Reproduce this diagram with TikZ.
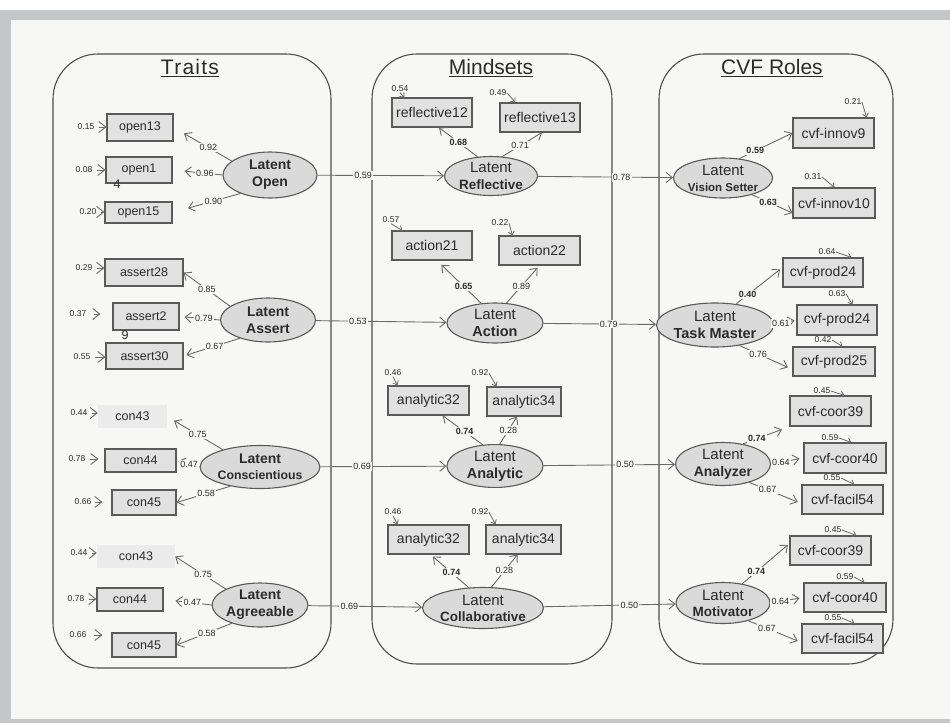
\documentclass[tikz,border=0pt]{standalone}
\usepackage{fontspec}
\setmainfont{Liberation Sans}
\usetikzlibrary{arrows.meta,shapes.geometric}
\newcommand\fsz[2]{\fontsize{#1}{#2}\selectfont}
\definecolor{framegray}{HTML}{C5C6C8}
\definecolor{paper}{HTML}{F7F7F5}
\definecolor{panelln}{HTML}{4E4E4E}
\definecolor{boxln}{HTML}{5A5A5A}
\definecolor{boxfill}{HTML}{E1E1E1}
\definecolor{faintfill}{HTML}{EBEBEB}
\definecolor{latfill}{HTML}{DADADA}
\definecolor{ink}{HTML}{2B2B2B}
\definecolor{wire}{HTML}{6A6A6A}
\begin{document}
\begin{tikzpicture}[x=1pt,y=-1pt,
  panel/.style={draw=panelln, line width=1.1pt, rounded corners=45pt},
  ttl/.style={font=\fsz{21}{24}, text=ink},
  tbox/.style={draw=boxln, fill=boxfill, line width=1.1pt, inner sep=0pt, font=\fsz{12.5}{14}, text=ink},
  mbox/.style={draw=boxln, fill=boxfill, line width=1.1pt, inner sep=0pt, font=\fsz{14}{16}, text=ink},
  fbox/.style={fill=faintfill, inner sep=0pt, font=\fsz{12.5}{14}, text=ink},
  lat/.style={ellipse, draw=boxln, fill=latfill, line width=1.1pt, inner sep=0pt, align=center, text=ink},
  ld/.style={draw=wire, line width=0.9pt, -{Straight Barb[length=6pt,width=10pt]}},
  lv/.style={font=\fsz{9}{10}, fill=paper, inner sep=1.2pt, text=ink},
  lvb/.style={lv, font=\fsz{9}{10}\bfseries},
  er/.style={font=\fsz{8.5}{9}, inner sep=0.5pt, text=ink},
  ea/.style={draw=wire, line width=0.9pt, shorten <=4pt, -{Straight Barb[length=7pt,width=11pt]}},
  es/.style={draw=wire, line width=0.8pt, -{Straight Barb[length=3.5pt,width=6pt]}}
]
% page, frame and panels
\fill[white] (0,0) rectangle (950,723);
\fill[framegray] (0,10) rectangle (950,723);
\fill[paper] (11,20) rectangle (950,719);
\useasboundingbox (0,0) rectangle (950,723);
\draw[panel] (53,54) rectangle (331,668);
\draw[panel] (372,54) rectangle (612,664);
\draw[panel] (659,54) rectangle (893,664);
\node[ttl] (tTraits) at (190,68) {\underline{\addfontfeature{LetterSpace=6}Traits}};
\node[ttl] (tMind) at (491,68) {\underline{Mindsets}};
\node[ttl] (tCVF) at (772,68) {\underline{CVF Roles}};

% ---------------- Traits ----------------
\node[lat, minimum width=94pt, minimum height=46pt, font=\fsz{14}{17}\bfseries] (lo) at (270,175) {Latent\\Open};
\node[lat, minimum width=95pt, minimum height=44pt, font=\fsz{14}{17}\bfseries] (la) at (268,320) {Latent\\Assert};
\node[lat, minimum width=95pt, minimum height=43pt, font=\fsz{14}{16}\bfseries] (lc) at (260,467) {Latent\\{\fsz{12.3}{14}Conscientious}};
\node[lat, minimum width=94pt, minimum height=44pt, font=\fsz{14}{17}\bfseries] (lg) at (260,605) {Latent\\Agreeable};

\node[tbox, minimum width=66pt, minimum height=27pt] (o13) at (140,127.5) {open13};
\node[tbox, minimum width=66pt, minimum height=26pt] (o14) at (139,170) {\raisebox{3pt}{open1}\hspace{12pt}};
\node[font=\fsz{12.5}{14}, text=ink, inner sep=0pt] (o14b) at (117,184) {4};
\node[tbox, minimum width=67pt, minimum height=21pt] (o15) at (138.5,212.5) {open15};
\node[tbox, minimum width=78pt, minimum height=27pt] (a28) at (144,272.5) {assert28};
\node[tbox, minimum width=66pt, minimum height=27pt] (a29) at (146,316.5) {assert2\hspace{6pt}};
\node[font=\fsz{12.5}{14}, text=ink, inner sep=0pt] (a29b) at (125,335) {9};
\node[tbox, minimum width=77pt, minimum height=26pt] (a30) at (144.5,356) {assert30};
\node[fbox, minimum width=69pt, minimum height=23pt] (c43) at (132.5,416.5) {con43};
\node[tbox, minimum width=71pt, minimum height=23pt] (c44) at (140.5,460.5) {con44};
\node[tbox, minimum width=64pt, minimum height=25pt] (c45) at (144,502.5) {con45};
\node[fbox, minimum width=78pt, minimum height=23pt] (g43) at (136,556.5) {con43};
\node[tbox, minimum width=66pt, minimum height=23pt] (g44) at (130,599.5) {con44};
\node[tbox, minimum width=64pt, minimum height=24pt] (g45) at (144,645) {con45};

% error terms of the trait indicators
\node[er] (eo13) at (86,127) {0.15};
\node[er] (eo14) at (84,170) {0.08};
\node[er] (eo15) at (88,212) {0.20};
\node[er] (ea28) at (84,268) {0.29};
\node[er] (ea29) at (78,314) {0.37};
\node[er] (ea30) at (82,357) {0.55};
\node[er] (ec43) at (79,413) {0.44};
\node[er] (ec44) at (77,459) {0.78};
\node[er] (ec45) at (83,502) {0.66};
\node[er] (eg43) at (79,553) {0.44};
\node[er] (eg44) at (76,599) {0.78};
\node[er] (eg45) at (78,635) {0.66};
\draw[ea] (eo13.east) -- (eo13.east -| o13.west);
\draw[ea] (eo14.east) -- (eo14.east -| o14.west);
\draw[ea] (eo15.east) -- (eo15.east -| o15.west);
\draw[ea] (ea28.east) -- (ea28.east -| a28.west);
\draw[ea, shorten >=12pt, shorten <=7pt] (ea29.east) -- (ea29.east -| a29.west);
\draw[ea] (ea30.east) -- (ea30.east -| a30.west);
\draw[ea] (ec43.east) -- (ec43.east -| c43.west);
\draw[ea, shorten >=6pt] (ec44.east) -- (ec44.east -| c44.west);
\draw[ea, shorten >=9pt, shorten <=3pt] (ec45.east) -- (ec45.east -| c45.west);
\draw[ea] (eg43.east) -- (eg43.east -| g43.west);
\draw[ea] (eg44.east) -- (eg44.east -| g44.west);
\draw[ea, shorten >=9pt, shorten <=7pt] (eg45.east) -- (eg45.east -| g45.west);

% trait loadings
\draw[ld, shorten >=12pt] (lo.160) -- node[lv, pos=.4] {0.92} (o13.east);
\draw[ld, shorten >=12pt] (lo.west) -- node[lv, pos=.35] {0.96} (o14.east);
\draw[ld, shorten >=16pt] (lo.212) -- node[lv, pos=.4] {0.90} (o15.east);
\draw[ld] (la.160) -- node[lv, pos=.5] {0.85} (a28.east);
\draw[ld, shorten >=5pt] (la.west) -- node[lv, pos=.4] {0.79} (a29.east);
\draw[ld, shorten >=3pt] (la.213) -- node[lv, pos=.45] {0.67} (a30.east);
\draw[ld, shorten >=8pt] (lc.155) -- node[lv, pos=.45] {0.75} (c43.east);
\draw[ld, shorten >=2pt] (lc.west) -- node[lv, pos=.45] {0.47} (c44.east);
\draw[ld] (lc.213) -- node[lv, pos=.45] {0.58} (c45.east);
\draw[ld] (lg.155) -- node[lv, pos=.45] {0.75} (g43.east);
\draw[ld, shorten >=12pt] (lg.west) -- node[lv, pos=.4] {0.47} (g44.east);
\draw[ld] (lg.213) -- node[lv, pos=.45] {0.58} (g45.east);

% ---------------- Mindsets ----------------
\node[lat, minimum width=93pt, minimum height=39pt, font=\fsz{15}{17}] (lr) at (491,176) {Latent\\{\fsz{13.5}{15}\bfseries Reflective}};
\node[lat, minimum width=96pt, minimum height=40pt, font=\fsz{15}{17}] (lac) at (495,323) {Latent\\{\fsz{14.5}{16}\bfseries Action}};
\node[lat, minimum width=96pt, minimum height=42pt, font=\fsz{15}{17}] (lan) at (495,466) {Latent\\{\fsz{14.5}{16}\bfseries Analytic}};
\node[lat, minimum width=93pt, minimum height=41pt, font=\fsz{15}{16}] (lcb) at (483,608) {Latent\\{\fsz{13.5}{15}\bfseries Collaborative}};

\node[mbox, minimum width=80pt, minimum height=29pt] (r12) at (432,112.5) {reflective12};
\node[mbox, minimum width=80pt, minimum height=29pt] (r13) at (540,117.5) {reflective13};
\node[mbox, minimum width=80pt, minimum height=29pt] (x21) at (432,245.5) {action21\hspace{8pt}};
\node[mbox, minimum width=81pt, minimum height=29pt] (x22) at (539.5,250.5) {action22\hspace{8pt}};
\node[mbox, minimum width=81pt, minimum height=29pt] (n32) at (428.5,400.5) {analytic32};
\node[mbox, minimum width=74pt, minimum height=29pt] (n34) at (524,401.5) {\raisebox{-3pt}{analytic34}};
\node[mbox, minimum width=81pt, minimum height=29pt] (b32) at (428.5,539.5) {analytic32};
\node[mbox, minimum width=75pt, minimum height=29pt] (b34) at (523.5,539.5) {\raisebox{-3pt}{analytic34}};

\node[er] (er12) at (400,89) {0.54};
\node[er] (er13) at (498,93) {0.49};
\node[er] (ex21) at (391,220) {0.57};
\node[er] (ex22) at (500,223) {0.22};
\node[er] (en32) at (393,373) {0.46};
\node[er] (en34) at (480,373) {0.92};
\node[er] (eb32) at (393,512) {0.46};
\node[er] (eb34) at (480,512) {0.92};
\draw[es] (er12.south) -- ([xshift=13pt]r12.north west);
\draw[es] (er13.east) -- ([xshift=16pt]r13.north west);
\draw[es] (ex21.south) -- ([xshift=11pt]x21.north west);
\draw[es] (ex22.east) -- ([xshift=14pt]x22.north west);
\draw[es] (en32.south) -- ([xshift=10pt]n32.north west);
\draw[es] (en34.east) -- ([xshift=10pt]n34.north west);
\draw[es] (eb32.south) -- ([xshift=10pt]b32.north west);
\draw[es] (eb34.east) -- ([xshift=10pt]b34.north west);

\draw[ld] (lr.125) -- node[lvb, pos=.5] {0.68} ([xshift=7pt]r12.south);
\draw[ld] (lr.60) -- node[lv, pos=.45] {0.71} ([xshift=2pt]r13.south);
\draw[ld, shorten >=6pt] (lac.125) -- node[lvb, pos=.4] {0.65} ([xshift=5pt]x21.south);
\draw[ld, shorten >=3pt] (lac.60) -- node[lv, pos=.45] {0.89} (x22.south);
\draw[ld] (lan.120) -- node[lvb, pos=.45] {0.74} ([xshift=14pt]n32.south);
\draw[ld] (lan.78) -- node[lv, pos=.5] {0.28} ([xshift=-7pt]n34.south);
\draw[ld, shorten >=3pt] (lcb.125) -- node[lvb, pos=.45] {0.74} ([xshift=2pt]b32.south);
\draw[ld] (lcb.68) -- node[lv, pos=.5] {0.28} ([xshift=-6pt]b34.south);

% ---------------- CVF Roles ----------------
\node[lat, minimum width=93pt, minimum height=40pt, font=\fsz{15}{16}] (lv) at (723,178) {Latent\\{\fsz{11.5}{13}\bfseries Vision Setter}};
\node[lat, minimum width=95pt, minimum height=44pt, font=\fsz{15}{17}] (lt) at (715,325) {Latent\\{\fsz{14.5}{16}\bfseries Task Master}};
\node[lat, minimum width=95pt, minimum height=43pt, font=\fsz{15}{17}] (lz) at (723,464) {Latent\\{\fsz{14}{16}\bfseries Analyzer}};
\node[lat, minimum width=94pt, minimum height=41pt, font=\fsz{15}{16}] (lm) at (723,603) {Latent\\{\fsz{13.5}{15}\bfseries Motivator}};

\node[mbox, minimum width=81pt, minimum height=30pt] (i9) at (833.5,133) {cvf-innov9\hspace{8pt}};
\node[mbox, minimum width=82pt, minimum height=30pt] (i10) at (834,203) {cvf-innov10};
\node[mbox, minimum width=80pt, minimum height=29pt] (p24) at (823,272.5) {cvf-prod24};
\node[mbox, minimum width=80pt, minimum height=30pt] (p24b) at (837,320) {cvf-prod24};
\node[mbox, minimum width=82pt, minimum height=29pt] (p25) at (834,361.5) {cvf-prod25};
\node[mbox, minimum width=81pt, minimum height=30pt] (c39) at (830.5,411) {cvf-coor39};
\node[mbox, minimum width=82pt, minimum height=30pt] (c40) at (845,458) {cvf-coor40};
\node[mbox, minimum width=81pt, minimum height=29pt] (f54) at (842.5,499.5) {cvf-facil54};
\node[mbox, minimum width=81pt, minimum height=29pt] (c39b) at (830.5,550.5) {cvf-coor39};
\node[mbox, minimum width=82pt, minimum height=29pt] (c40b) at (845,597.5) {cvf-coor40};
\node[mbox, minimum width=81pt, minimum height=29pt] (f54b) at (842.5,638.5) {cvf-facil54};

\node[er] (ei9) at (853,102) {0.21};
\node[er] (ei10) at (813,177) {0.31};
\node[er] (ep24) at (827,252) {0.64};
\node[er] (ep24b) at (837,294) {0.63};
\node[er] (ep25) at (823,340) {0.42};
\node[er] (ec39) at (822,391) {0.45};
\node[er] (ec40) at (830,438) {0.59};
\node[er] (ef54) at (832,478) {0.55};
\node[er] (ec39b) at (833,530) {0.45};
\node[er] (ec40b) at (845,577) {0.59};
\node[er] (ef54b) at (833,618) {0.55};
\draw[es] (ei9.east) -- ([xshift=-8pt]i9.north east);
\draw[es] (ei10.east) -- ([xshift=42pt]i10.north west);
\draw[es] (ep24.east) -- ([xshift=69pt]p24.north west);
\draw[es] (ep24b.east) -- ([xshift=56pt]p24b.north west);
\draw[es] (ep25.east) -- ([xshift=50pt]p25.north west);
\draw[es] (ec39.east) -- ([xshift=55pt]c39.north west);
\draw[es] (ec40.east) -- ([xshift=48pt]c40.north west);
\draw[es] (ef54.east) -- ([xshift=53pt]f54.north west);
\draw[es] (ec39b.east) -- ([xshift=67pt]c39b.north west);
\draw[es] (ec40b.east) -- ([xshift=61pt]c40b.north west);
\draw[es] (ef54b.east) -- ([xshift=53pt]f54b.north west);

\draw[ld] (lv.50) -- node[lvb, pos=.3] {0.59} (i9.west);
\draw[ld] (lv.-30) -- node[lvb, pos=.4] {0.63} ([yshift=-10pt]i10.west);
\draw[ld, shorten >=3pt] (lt.45) -- node[lvb, pos=.25] {0.40} ([yshift=5pt]p24.west);
\draw[ld, shorten >=2pt] (lt.east) -- node[lv, pos=.3] {0.61} (p24b.west);
\draw[ld, shorten >=5pt] (lt.-40) -- node[lv, pos=.35] {0.76} ([yshift=-8pt]p25.west);
\draw[ld, shorten >=8pt] (lz.45) -- node[lvb, pos=.3] {0.74} (c39.south west);
\draw[ld, shorten >=4pt] (lz.east) -- node[lv, pos=.3] {0.64} (c40.west);
\draw[ld, shorten >=4pt] (lz.-35) -- node[lv, pos=.35] {0.67} ([yshift=-4pt]f54.west);
\draw[ld, shorten >=2pt] (lm.45) -- node[lvb, pos=.3] {0.74} ([yshift=7pt]c39b.west);
\draw[ld, shorten >=4pt] (lm.east) -- node[lv, pos=.3] {0.64} (c40b.west);
\draw[ld, shorten >=4pt] (lm.-35) -- node[lv, pos=.35] {0.67} ([yshift=-4pt]f54b.west);

% ---------------- structural paths ----------------
\draw[ld] (lo) -- node[lv, pos=.36] {0.59} (lr);
\draw[ld] (la) -- node[lv, pos=.32] {0.53} (lac);
\draw[ld] (lc) -- node[lv, pos=.33] {0.69} (lan);
\draw[ld] (lg) -- node[lv, pos=.36] {0.69} (lcb);
\draw[ld] (lr) -- node[lv, pos=.62] {0.78} (lv);
\draw[ld] (lac) -- node[lv, pos=.58] {0.79} (lt);
\draw[ld] (lan) -- node[lv, pos=.62] {0.50} (lz);
\draw[ld] (lcb) -- node[lv, pos=.65] {0.50} (lm);
\end{tikzpicture}
\end{document}
